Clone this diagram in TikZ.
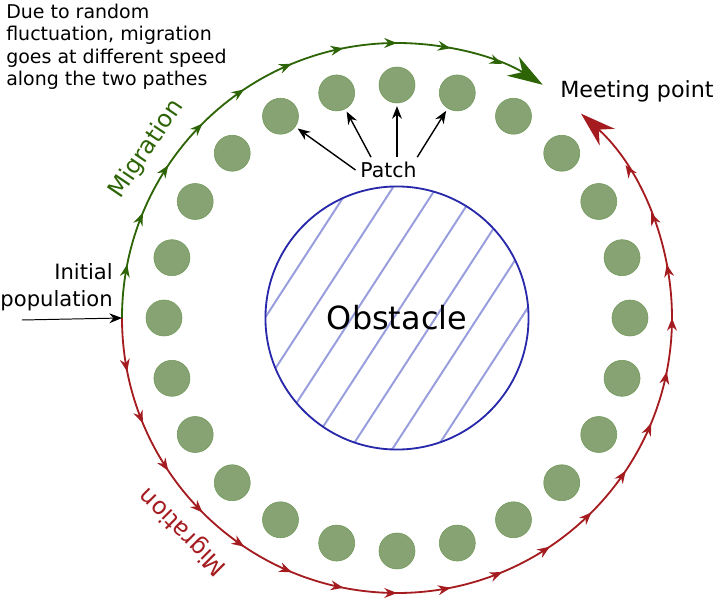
\documentclass[tikz,border=0pt]{standalone}
\usepackage{fontspec}
\setmainfont{DejaVu Sans}
\usetikzlibrary{arrows.meta,decorations.markings}
\definecolor{patchgreen}{RGB}{135,163,116}
\definecolor{patchedge}{RGB}{112,152,88}
\definecolor{pathgreen}{RGB}{45,100,5}
\definecolor{pathred}{RGB}{165,28,32}
\definecolor{obstblue}{RGB}{40,40,170}
\definecolor{hatchblue}{RGB}{152,157,222}
\tikzset{
  patch node/.style={circle,fill=patchgreen,draw=patchedge,line width=0.4pt,minimum size=0.9cm,inner sep=0pt},
  obstacle node/.style={circle,draw=obstblue,line width=1.3pt,minimum size=6.575cm,inner sep=0pt,font=\fontsize{22.7}{27}\selectfont},
  label node/.style={inner sep=0pt,align=left},
  hatch line/.style={draw=hatchblue,line width=1.4pt},
  pointer/.style={-{Stealth[length=9pt,width=7pt]},line width=1pt},
  green path/.style={pathgreen,line width=1.3pt,-{Stealth[length=25pt,width=16pt,inset=8pt]},
    decoration={markings,mark=between positions 0.0922 and 0.93 step 0.0922 with {\arrow{Stealth[length=9pt,width=7pt]}}},
    postaction={decorate}},
  red path/.style={pathred,line width=1.3pt,-{Stealth[length=25pt,width=16pt,inset=8pt]},
    decoration={markings,mark=between positions 0.04934 and 0.94 step 0.04934 with {\arrow{Stealth[length=9pt,width=7pt]}}},
    postaction={decorate}}
}
\begin{document}
\begin{tikzpicture}[x=0.025cm,y=0.025cm]
\useasboundingbox (-397,-282) rectangle (316,318);

\begin{scope}
  \clip (0,0) circle [radius=131];
  \foreach \o in {-110.8,-74.5,-38,-2.8,32.2,67.5,104.1}
    \draw[hatch line,shift={(-33:\o)}] (237:150) -- (57:150);
\end{scope}
\node[obstacle node] (obstacle) at (0,0) {Obstacle};

\foreach \i in {0,...,23}
  \node[patch node] (p\i) at (\i*15:233) {};

\coordinate (start) at (180:275);
\draw[green path] (start) arc[start angle=180,end angle=58,radius=275];
\draw[red path] (start) arc[start angle=180,end angle=408,radius=275];

\node[label node,anchor=north west,font=\fontsize{13.5}{15.8}\selectfont] (note) at (-391,314)
  {Due to random\\fluctuation, migration\\goes at different speed\\along the two pathes};
\node[label node,anchor=west,font=\fontsize{15.8}{18}\selectfont] (meeting) at (163,227) {Meeting point};
\node[label node,align=right,anchor=east,font=\fontsize{15}{19}\selectfont] (initial) at (-284,31) {Initial\\population};
\node[font=\fontsize{14.5}{17}\selectfont] (patch) at (-8.5,148) {Patch};
\node[pathgreen,rotate=56,font=\fontsize{17}{20}\selectfont] (migration up) at (146:302) {Migration};
\node[pathred,rotate=135,font=\fontsize{17}{20}\selectfont] (migration down) at (225:302) {Migration};

\coordinate (source) at (-375,-2);
\draw[pointer,line width=0.7pt] (source) -- (start);
\draw[pointer,shorten >=2pt] (patch.west) -- (p8);
\draw[pointer,shorten >=2pt] ([xshift=11pt]patch.north west) -- (p7);
\draw[pointer,shorten >=2pt] (patch.north -| p6) -- (p6);
\draw[pointer,shorten >=2pt] ([xshift=-3pt]patch.north east) -- (p5);
\end{tikzpicture}
\end{document}
